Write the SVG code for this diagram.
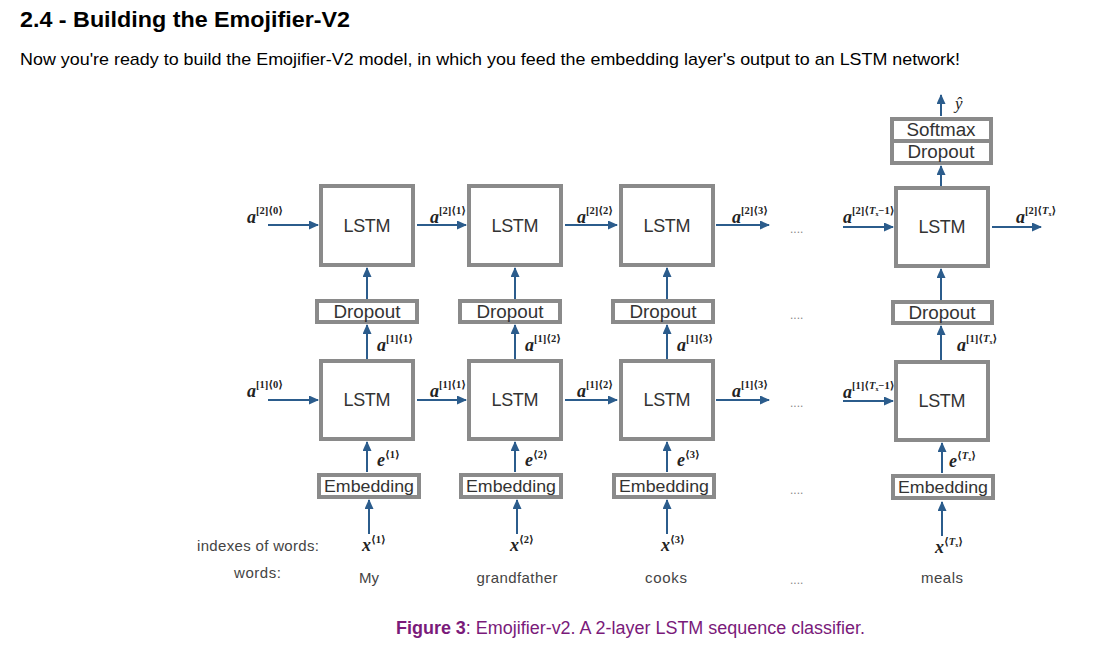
<svg xmlns="http://www.w3.org/2000/svg" width="1106" height="647" viewBox="0 0 1106 647">
<style>
.box{fill:#fff;stroke:#8a8a8a;stroke-width:4}
.lbl{font-family:"Liberation Sans",Arial,sans-serif;fill:#333;text-anchor:middle}
.lstm{font-size:18px}
.small{font-size:18px}
.emb{font-size:17px}
.conn line{stroke:#2b5c8c;stroke-width:2;marker-end:url(#ah)}
.m{font-family:"Liberation Serif","DejaVu Serif",serif;fill:#222}
.mi{font-style:italic;font-weight:bold;font-size:18px}
.sup{font-size:10.5px;font-weight:bold}
.word{font-family:"Liberation Sans",Arial,sans-serif;font-size:15px;fill:#444}
.dots{font-family:"Liberation Sans",Arial,sans-serif;font-size:12px;fill:#888}
</style>
<defs>
<marker id="ah" markerWidth="10" markerHeight="9" refX="9" refY="4.5" orient="auto" markerUnits="userSpaceOnUse">
<path d="M0,0 L10,4.5 L0,9 Z" fill="#2b5c8c"/>
</marker>
</defs>
<rect width="1106" height="647" fill="#fff"/>
<text x="20" y="27" font-family="Liberation Sans,Arial,sans-serif" font-size="22" font-weight="bold" fill="#000" textLength="330" lengthAdjust="spacingAndGlyphs">2.4 - Building the Emojifier-V2</text>
<text x="20" y="65" font-family="Liberation Sans,Arial,sans-serif" font-size="17" fill="#000" textLength="940" lengthAdjust="spacingAndGlyphs">Now you're ready to build the Emojifier-V2 model, in which you feed the embedding layer's output to an LSTM network!</text>

<g id="connectors" class="conn">
<line x1="268" y1="225" x2="318" y2="225"/>
<line x1="417" y1="225" x2="466" y2="225"/>
<line x1="565" y1="225" x2="617" y2="225"/>
<line x1="716" y1="225" x2="769" y2="225"/>
<line x1="843" y1="227" x2="893" y2="227"/>
<line x1="992" y1="227" x2="1041" y2="227"/>
<line x1="268" y1="400" x2="318" y2="400"/>
<line x1="417" y1="400" x2="466" y2="400"/>
<line x1="565" y1="400" x2="617" y2="400"/>
<line x1="716" y1="400" x2="769" y2="400"/>
<line x1="843" y1="401" x2="893" y2="401"/>
<line x1="367" y1="299" x2="367" y2="268"/>
<line x1="367" y1="359" x2="367" y2="325"/>
<line x1="367" y1="472" x2="367" y2="442"/>
<line x1="369" y1="534" x2="369" y2="500"/>
<line x1="515" y1="299" x2="515" y2="268"/>
<line x1="515" y1="359" x2="515" y2="325"/>
<line x1="515" y1="472" x2="515" y2="442"/>
<line x1="517" y1="534" x2="517" y2="500"/>
<line x1="667" y1="299" x2="667" y2="268"/>
<line x1="667" y1="359" x2="667" y2="325"/>
<line x1="667" y1="472" x2="667" y2="442"/>
<line x1="667" y1="534" x2="667" y2="500"/>
<line x1="941" y1="186" x2="941" y2="166"/>
<line x1="941" y1="116" x2="941" y2="95"/>
<line x1="941" y1="300" x2="941" y2="269"/>
<line x1="941" y1="360" x2="941" y2="326"/>
<line x1="942" y1="473" x2="942" y2="443"/>
<line x1="942" y1="536" x2="942" y2="502"/>
</g>

<g id="lstm2-1"><rect class="box" x="321" y="186" width="92" height="79"/><text class="lbl lstm" x="367" y="232" textLength="47">LSTM</text></g>
<g id="lstm2-2"><rect class="box" x="469" y="186" width="92" height="79"/><text class="lbl lstm" x="515" y="232" textLength="47">LSTM</text></g>
<g id="lstm2-3"><rect class="box" x="621" y="186" width="92" height="79"/><text class="lbl lstm" x="667" y="232" textLength="47">LSTM</text></g>
<g id="lstm2-T"><rect class="box" x="896" y="188" width="92" height="78"/><text class="lbl lstm" x="942" y="233" textLength="47">LSTM</text></g>

<g id="drop-1"><rect class="box" x="317" y="301" width="100" height="21"/><text class="lbl small" x="367" y="318" textLength="67" lengthAdjust="spacingAndGlyphs">Dropout</text></g>
<g id="drop-2"><rect class="box" x="460" y="301" width="100" height="21"/><text class="lbl small" x="510" y="318" textLength="67" lengthAdjust="spacingAndGlyphs">Dropout</text></g>
<g id="drop-3"><rect class="box" x="613" y="301" width="100" height="21"/><text class="lbl small" x="663" y="318" textLength="67" lengthAdjust="spacingAndGlyphs">Dropout</text></g>
<g id="drop-T"><rect class="box" x="893" y="302" width="99" height="21"/><text class="lbl small" x="942" y="319" textLength="67" lengthAdjust="spacingAndGlyphs">Dropout</text></g>

<g id="lstm1-1"><rect class="box" x="321" y="361" width="92" height="78"/><text class="lbl lstm" x="367" y="406" textLength="47">LSTM</text></g>
<g id="lstm1-2"><rect class="box" x="469" y="361" width="92" height="78"/><text class="lbl lstm" x="515" y="406" textLength="47">LSTM</text></g>
<g id="lstm1-3"><rect class="box" x="621" y="361" width="92" height="78"/><text class="lbl lstm" x="667" y="406" textLength="47">LSTM</text></g>
<g id="lstm1-T"><rect class="box" x="896" y="362" width="92" height="78"/><text class="lbl lstm" x="942" y="407" textLength="47">LSTM</text></g>

<g id="emb-1"><rect class="box" x="319" y="475" width="100" height="22"/><text class="lbl emb" x="369" y="492" textLength="90" lengthAdjust="spacingAndGlyphs">Embedding</text></g>
<g id="emb-2"><rect class="box" x="461" y="475" width="100" height="22"/><text class="lbl emb" x="511" y="492" textLength="90" lengthAdjust="spacingAndGlyphs">Embedding</text></g>
<g id="emb-3"><rect class="box" x="614" y="475" width="100" height="22"/><text class="lbl emb" x="664" y="492" textLength="90" lengthAdjust="spacingAndGlyphs">Embedding</text></g>
<g id="emb-T"><rect class="box" x="893" y="476" width="100" height="22"/><text class="lbl emb" x="943" y="493" textLength="90" lengthAdjust="spacingAndGlyphs">Embedding</text></g>

<g id="softmax-dropout"><rect class="box" x="892" y="119" width="99" height="44"/><line x1="892" y1="141" x2="991" y2="141" stroke="#8a8a8a" stroke-width="4"/><text class="lbl small" x="941" y="136" textLength="69" lengthAdjust="spacingAndGlyphs">Softmax</text><text class="lbl small" x="941" y="158" textLength="67" lengthAdjust="spacingAndGlyphs">Dropout</text></g>

<g id="math-labels">
<text class="m" x="955" y="109"><tspan font-style="italic" font-size="17">ŷ</tspan></text>
<text class="m" x="247" y="223"><tspan class="mi">a</tspan><tspan class="sup" dy="-9">[2]⟨0⟩</tspan></text>
<text class="m" x="430" y="223"><tspan class="mi">a</tspan><tspan class="sup" dy="-9">[2]⟨1⟩</tspan></text>
<text class="m" x="577" y="223"><tspan class="mi">a</tspan><tspan class="sup" dy="-9">[2]⟨2⟩</tspan></text>
<text class="m" x="732" y="223"><tspan class="mi">a</tspan><tspan class="sup" dy="-9">[2]⟨3⟩</tspan></text>
<text class="m" x="843" y="223"><tspan class="mi">a</tspan><tspan class="sup" dy="-9">[2]⟨<tspan font-style="italic">T</tspan><tspan font-size="6" dy="2">x</tspan><tspan dy="-2">−1⟩</tspan></tspan></text>
<text class="m" x="1016" y="223"><tspan class="mi">a</tspan><tspan class="sup" dy="-9">[2]⟨<tspan font-style="italic">T</tspan><tspan font-size="6" dy="2">x</tspan><tspan dy="-2">⟩</tspan></tspan></text>

<text class="m" x="247" y="397"><tspan class="mi">a</tspan><tspan class="sup" dy="-9">[1]⟨0⟩</tspan></text>
<text class="m" x="430" y="397"><tspan class="mi">a</tspan><tspan class="sup" dy="-9">[1]⟨1⟩</tspan></text>
<text class="m" x="577" y="397"><tspan class="mi">a</tspan><tspan class="sup" dy="-9">[1]⟨2⟩</tspan></text>
<text class="m" x="732" y="397"><tspan class="mi">a</tspan><tspan class="sup" dy="-9">[1]⟨3⟩</tspan></text>
<text class="m" x="843" y="398"><tspan class="mi">a</tspan><tspan class="sup" dy="-9">[1]⟨<tspan font-style="italic">T</tspan><tspan font-size="6" dy="2">x</tspan><tspan dy="-2">−1⟩</tspan></tspan></text>

<text class="m" x="377" y="351"><tspan class="mi">a</tspan><tspan class="sup" dy="-9">[1]⟨1⟩</tspan></text>
<text class="m" x="525" y="351"><tspan class="mi">a</tspan><tspan class="sup" dy="-9">[1]⟨2⟩</tspan></text>
<text class="m" x="677" y="351"><tspan class="mi">a</tspan><tspan class="sup" dy="-9">[1]⟨3⟩</tspan></text>
<text class="m" x="957" y="351"><tspan class="mi">a</tspan><tspan class="sup" dy="-9">[1]⟨<tspan font-style="italic">T</tspan><tspan font-size="6" dy="2">x</tspan><tspan dy="-2">⟩</tspan></tspan></text>

<text class="m" x="377" y="466"><tspan class="mi" font-size="15">e</tspan><tspan class="sup" dy="-8">⟨1⟩</tspan></text>
<text class="m" x="525" y="466"><tspan class="mi" font-size="15">e</tspan><tspan class="sup" dy="-8">⟨2⟩</tspan></text>
<text class="m" x="677" y="466"><tspan class="mi" font-size="15">e</tspan><tspan class="sup" dy="-8">⟨3⟩</tspan></text>
<text class="m" x="949" y="467"><tspan class="mi" font-size="15">e</tspan><tspan class="sup" dy="-8">⟨<tspan font-style="italic">T</tspan><tspan font-size="6" dy="2">x</tspan><tspan dy="-2">⟩</tspan></tspan></text>

<text class="m" x="362" y="551"><tspan class="mi" font-size="15">x</tspan><tspan class="sup" dy="-8">⟨1⟩</tspan></text>
<text class="m" x="510" y="551"><tspan class="mi" font-size="15">x</tspan><tspan class="sup" dy="-8">⟨2⟩</tspan></text>
<text class="m" x="661" y="551"><tspan class="mi" font-size="15">x</tspan><tspan class="sup" dy="-8">⟨3⟩</tspan></text>
<text class="m" x="935" y="553"><tspan class="mi" font-size="15">x</tspan><tspan class="sup" dy="-8">⟨<tspan font-style="italic">T</tspan><tspan font-size="6" dy="2">x</tspan><tspan dy="-2">⟩</tspan></tspan></text>
</g>

<g id="words">
<text class="word" x="319" y="551" text-anchor="end" textLength="122">indexes of words:</text>
<text class="word" x="281" y="578" text-anchor="end" textLength="47">words:</text>
<text class="word" x="369" y="583" text-anchor="middle">My</text>
<text class="word" x="517" y="583" text-anchor="middle" textLength="81">grandfather</text>
<text class="word" x="666" y="583" text-anchor="middle" textLength="42">cooks</text>
<text class="word" x="942" y="583" text-anchor="middle" textLength="42">meals</text>
</g>

<g id="dots">
<text class="dots" x="790" y="233">....</text>
<text class="dots" x="790" y="319">....</text>
<text class="dots" x="790" y="407">....</text>
<text class="dots" x="790" y="494">....</text>
<text class="dots" x="790" y="584">....</text>
</g>

<text x="396" y="634" font-family="Liberation Sans,Arial,sans-serif" font-size="17.5" fill="#7a1a7a" textLength="469" lengthAdjust="spacingAndGlyphs"><tspan font-weight="bold">Figure 3</tspan>: Emojifier-v2. A 2-layer LSTM sequence classifier.</text>
</svg>
